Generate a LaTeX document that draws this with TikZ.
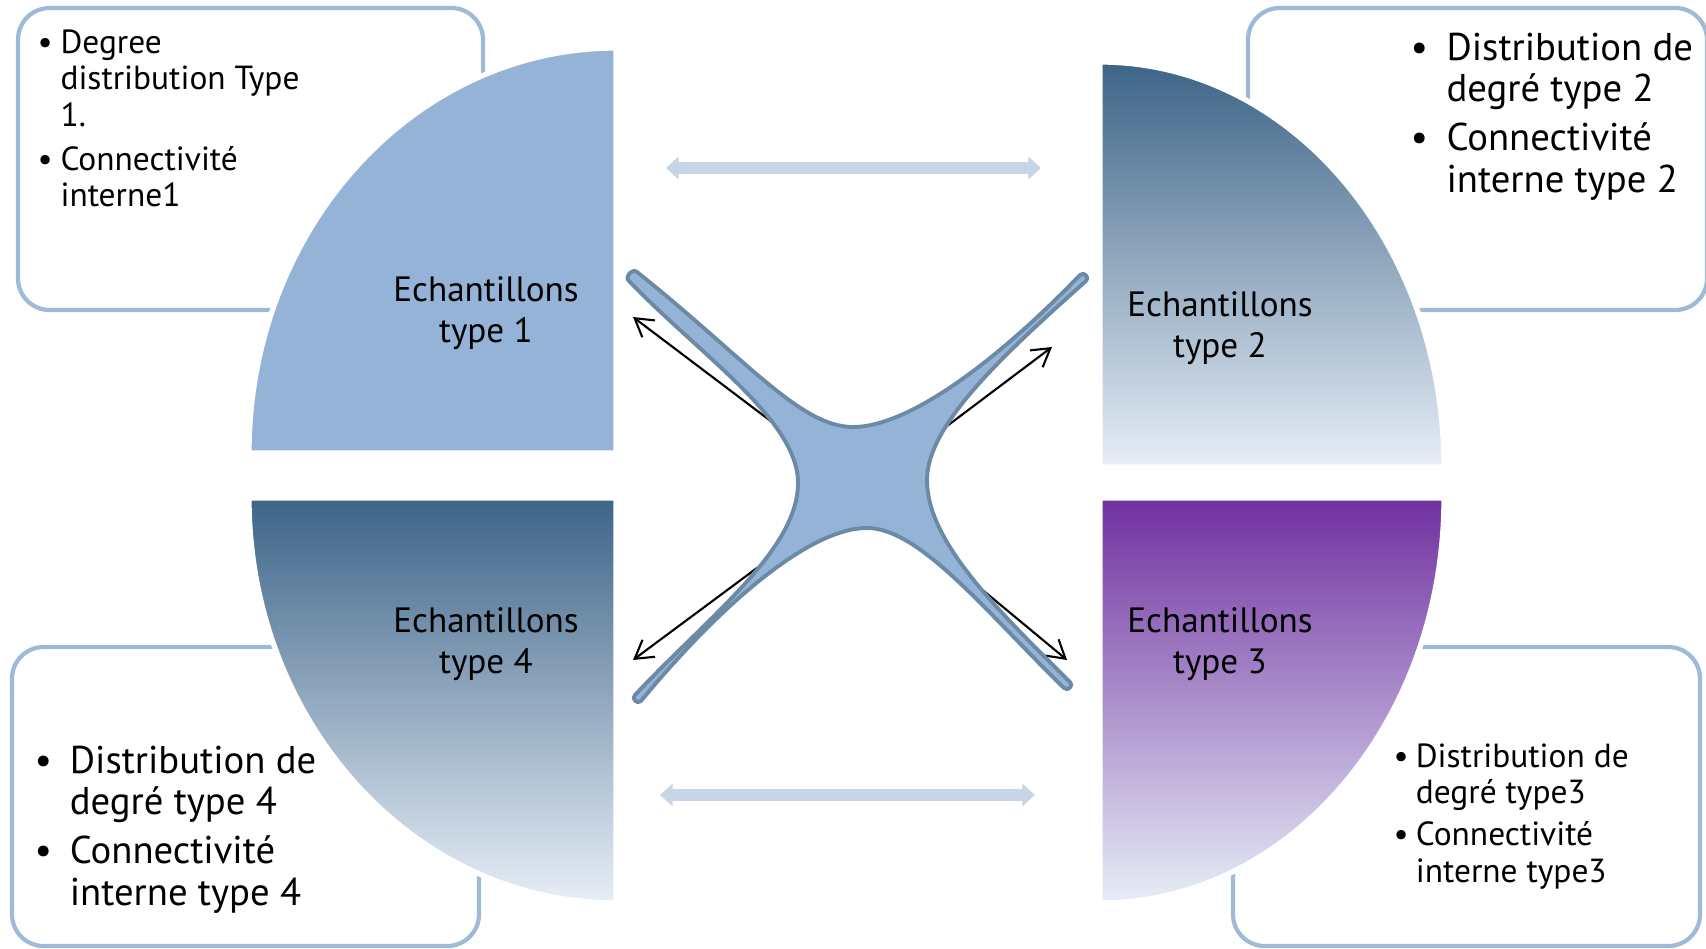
\documentclass[tikz,border=0pt]{standalone}
\usepackage{fontspec}
\setmainfont{PT Sans}
\usetikzlibrary{arrows.meta}
\definecolor{qblue}{HTML}{95B3D7}
\definecolor{qdark}{HTML}{3D6487}
\definecolor{qlight}{HTML}{D4E1F0}
\definecolor{qpale}{HTML}{E7EEF7}
\definecolor{qpurple}{HTML}{7030A0}
\definecolor{boxline}{HTML}{9DBAD9}
\definecolor{crossline}{HTML}{6B8AA6}
\definecolor{linkblue}{HTML}{C6D6E7}
\newcommand{\bpoint}[2]{\makebox[#1][l]{\textbullet}#2}
\newcommand{\bnext}[2]{\hspace*{#1}#2}

\begin{document}
\begin{tikzpicture}[x=0.01cm, y=-0.01cm,
  infobox/.style={draw=boxline, line width=1.2pt, rounded corners=9pt},
  quarter/.style={draw=white, line width=1.5pt},
  sampletxt/.style={align=center, inner sep=0pt, font=\fontsize{10}{11.8}\selectfont},
  smalltxt/.style={align=left, anchor=north west, inner sep=0pt, font=\fontsize{9.5}{10.4}\selectfont},
  bigtxt/.style={align=left, anchor=north west, inner sep=0pt, font=\fontsize{11}{11.9}\selectfont},
  link/.style={draw=linkblue, line width=3.4pt, {Triangle[width=6.3pt,length=3.6pt]}-{Triangle[width=6.3pt,length=3.6pt]}},
  spoke/.style={draw, line width=0.6pt, -{Straight Barb[length=5pt,width=6pt]}}]
\useasboundingbox (0,0) rectangle (1706,949);
\clip (0,0) rectangle (1706,949);

\draw[infobox] (18,8) rectangle (483,310);
\draw[infobox] (1248,8) rectangle (1707,310);
\draw[infobox] (12,647) rectangle (479,946);
\draw[infobox] (1233,647) rectangle (1700,946);

\filldraw[quarter, fill=qblue] (616,453) -- (249,453)
  arc[start angle=180, end angle=270, x radius=367, y radius=405] -- cycle;
\shadedraw[quarter, top color=qdark, middle color=qlight, bottom color=qpale] (1100,467) -- (1100,62)
  arc[start angle=270, end angle=360, x radius=344, y radius=405] -- cycle;
\shadedraw[quarter, top color=qpurple, middle color=qlight, bottom color=qpale] (1100,498) -- (1444,498)
  arc[start angle=0, end angle=90, x radius=344, y radius=405] -- cycle;
\shadedraw[quarter, top color=qdark, middle color=qlight, bottom color=qpale] (616,498) -- (249,498)
  arc[start angle=180, end angle=90, x radius=367, y radius=405] -- cycle;

\coordinate (hub) at (862,490);
\coordinate (p1) at (633,317);
\coordinate (p2) at (1052,347);
\coordinate (p3) at (1067,660);
\coordinate (p4) at (633,660);
\begin{scope}[every edge/.style={spoke}]
\path (hub) edge (p1);
\path (hub) edge (p2);
\path (hub) edge (p3);
\path (hub) edge (p4);
\end{scope}

\filldraw[fill=qblue, draw=crossline, line width=1.1pt, line join=round]
  (637,272) .. controls (745,358) and (800,427) .. (853,427)
  .. controls (910,427) and (1000,358) .. (1080,275)
  .. controls (1084,271) and (1090,278) .. (1086,281)
  .. controls (1003,355) and (927,425) .. (927,480)
  .. controls (927,540) and (993,606) .. (1070,682)
  .. controls (1074,685) and (1068,692) .. (1064,688)
  .. controls (987,613) and (920,528) .. (867,528)
  .. controls (810,528) and (722,603) .. (641,701)
  .. controls (637,705) and (631,698) .. (635,695)
  .. controls (708,617) and (798,550) .. (798,483)
  .. controls (798,420) and (700,355) .. (629,281)
  .. controls (624,277) and (632,268) .. cycle;

\coordinate (l1) at (666,168);
\coordinate (r1) at (1041,168);
\coordinate (l2) at (660,795);
\coordinate (r2) at (1035,795);
\path[link] (l1) -- (r1);
\path[link] (l2) -- (r2);

\node[sampletxt] (q1) at (486,313) {Echantillons\\type 1};
\node[sampletxt] (q2) at (1220,328) {Echantillons\\type 2};
\node[sampletxt] (q3) at (1220,644) {Echantillons\\type 3};
\node[sampletxt] (q4) at (486,644) {Echantillons\\type 4};

\node[smalltxt] (t1) at (37,29) {\bpoint{6.5pt}{Degree}\\\bnext{6.5pt}{distribution Type}\\\bnext{6.5pt}{1.}\\[2pt]\bpoint{6.5pt}{Connectivité}\\\bnext{6.5pt}{interne1}};
\node[bigtxt] (t2) at (1410,32) {\bpoint{10.2pt}{Distribution de}\\\bnext{10.2pt}{degré type 2}\\[2pt]\bpoint{10.2pt}{Connectivité}\\\bnext{10.2pt}{interne type 2}};
\node[smalltxt] (t3) at (1393,743) {\bpoint{6.3pt}{Distribution de}\\\bnext{6.3pt}{degré type3}\\[1.5pt]\bpoint{6.3pt}{Connectivité}\\\bnext{6.3pt}{interne type3}};
\node[bigtxt] (t4) at (34,745) {\bpoint{10pt}{Distribution de}\\\bnext{10pt}{degré type 4}\\[2pt]\bpoint{10pt}{Connectivité}\\\bnext{10pt}{interne type 4}};
\end{tikzpicture}
\end{document}
